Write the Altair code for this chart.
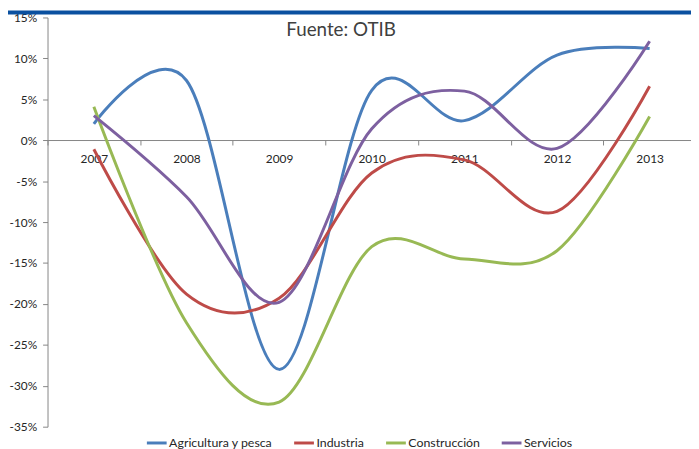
import altair as alt
import pandas as pd

years = ["2007", "2008", "2009", "2010", "2011", "2012", "2013"]
agricultura = [2.0, 7.3, -28.0, 6.1, 2.4, 10.4, 11.2]
industria = [-1.1, -18.8, -19.3, -4.0, -2.4, -8.7, 6.6]
construccion = [4.1, -22.3, -32.0, -13.0, -14.5, -13.5, 2.9]
servicios = [3.0, -6.9, -19.8, 1.4, 6.0, -1.0, 12.1]

series_names = ["Agricultura y pesca", "Industria", "Construcción", "Servicios"]
series_colors = ["#4a7ebb", "#be4b48", "#98b954", "#7d60a0"]
y_ticks = [-35, -30, -25, -20, -15, -10, -5, 0, 5, 10, 15]

rows = []
for name, vals in zip(series_names, [agricultura, industria, construccion, servicios]):
    for i, (yr, v) in enumerate(zip(years, vals)):
        rows.append({"year": yr, "value": v, "serie": name, "idx": i})
df = pd.DataFrame(rows)

FONT = "Lato"
W, H = 651, 414

x_scale = alt.Scale(domain=years, range=[0, 656], paddingInner=0, paddingOuter=0)
y_scale = alt.Scale(domain=[-35, 15], nice=False, zero=False)

lines = alt.Chart(df).mark_line(interpolate="cardinal", strokeWidth=3).encode(
    x=alt.X("year:N", scale=x_scale, sort=years,
            axis=alt.Axis(title=None, labelAngle=0, orient="bottom", offset=-290,
                          domainColor="#868686", tickColor="#868686", tickSize=5,
                          tickBand="extent", labelPadding=9, labelFont=FONT,
                          labelFontSize=12, labelColor="#262626", grid=False)),
    y=alt.Y("value:Q", scale=y_scale,
            axis=alt.Axis(title=None, values=y_ticks, labelExpr="datum.value + '%'",
                          domainColor="#868686", tickColor="#868686", tickSize=5,
                          labelPadding=6, labelFont=FONT, labelFontSize=12,
                          labelColor="#262626", grid=False)),
    color=alt.Color("serie:N", sort=series_names,
                    scale=alt.Scale(domain=series_names, range=series_colors),
                    legend=alt.Legend(title=None, orient="none", direction="horizontal",
                                      legendX=99, legendY=419, symbolType="stroke",
                                      symbolSize=400, symbolStrokeWidth=3,
                                      labelFont=FONT, labelFontSize=12.5,
                                      labelColor="#262626", labelOffset=1,
                                      columnPadding=15)),
    detail="serie:N",
    order="idx:Q",
)

title = alt.Chart(pd.DataFrame({"t": ["Fuente: OTIB"]})).mark_text(
    font=FONT, fontSize=19, color="#404040", align="center", baseline="middle"
).encode(text="t:N", x=alt.value(297), y=alt.value(13))

topbar = alt.Chart(pd.DataFrame({"a": [0]})).mark_rule(
    color="#0a50a0", strokeWidth=4
).encode(x=alt.value(-40), x2=alt.value(660), y=alt.value(-5))

chart = alt.layer(topbar, lines, title).properties(
    width=W, height=H,
    padding={"left": 40, "top": 7, "right": 0, "bottom": 20},
    autosize=alt.AutoSizeParams(type="none"),
).configure_view(stroke=None)

chart.save("out.html", embed_options={"renderer": "svg", "actions": False})
